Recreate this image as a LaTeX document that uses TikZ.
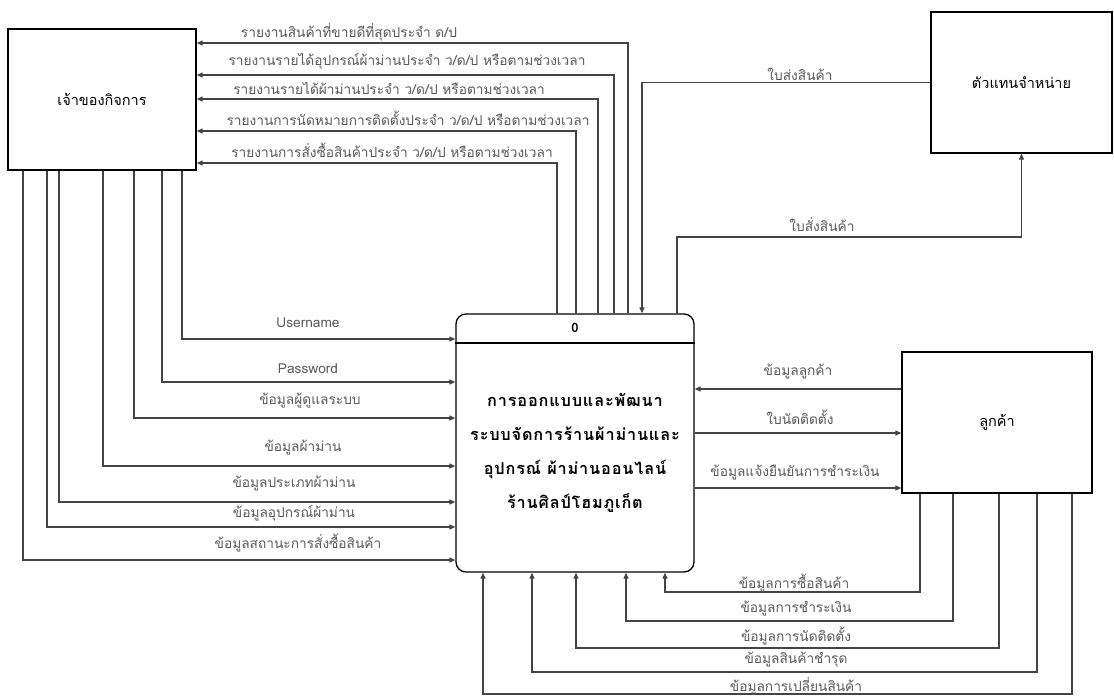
\documentclass[tikz,border=0pt]{standalone}
\usepackage{fontspec}
\setmainfont[Script=Thai]{Loma}
\usepackage{tikz}
\usetikzlibrary{arrows.meta,positioning,calc}

\definecolor{linegray}{HTML}{444444}
\definecolor{textgray}{HTML}{595959}

\tikzset{
  entity/.style={draw=black,line width=1.3pt,minimum width=#1,minimum height=141pt,inner sep=0pt,font=\fontsize{14.5}{16}\selectfont},
  flow/.style={draw=linegray,line width=1.1pt,-{Triangle[length=6pt,width=5pt]}},
  lbl/.style={text=textgray,inner sep=0pt,font=\fontsize{13.7}{15}\selectfont}
}

\begin{document}
\begin{tikzpicture}[x=1pt,y=-1pt]
  \useasboundingbox (0,0) rectangle (1114,696); % page frame
  \node[entity=188pt] (owner) at (102,99.5) {เจ้าของกิจการ}; % external entity: owner
  \node[entity=181pt] (dealer) at (1021.5,82.5) {ตัวแทนจำหน่าย}; % external entity: dealer
  \node[entity=190pt] (cust) at (997,422.5) {ลูกค้า}; % external entity: customer
  \node[draw=black,line width=1.3pt,rounded corners=10pt,minimum width=238pt,minimum height=258pt,inner sep=0pt] (proc) at (575,443) {}; % process 0
  \draw[black,line width=1.3pt] (proc.west |- 0,343) -- (proc.east |- 0,343); % divider under the number
  \node[font=\bfseries\fontsize{13}{15}\selectfont] (pnum) at (575,328) {0}; % process number
  \node[align=center,font=\bfseries\fontsize{16.3}{34}\selectfont\addfontfeature{LetterSpace=5}] (pname) at (575,453)
    {การออกแบบและพัฒนา\\ระบบจัดการร้านผ้าม่านและ\\อุปกรณ์ ผ้าม่านออนไลน์\\ร้านศิลป์โฮมภูเก็ต}; % process name

  % process -> owner (reports)
  \draw[flow] (proc.north -| 628,0) |- (owner.east |- 0,43);
  \draw[flow] (proc.north -| 614,0) |- (owner.east |- 0,75);
  \draw[flow] (proc.north -| 598,0) |- (owner.east |- 0,99);
  \draw[flow] (proc.north -| 576,0) |- (owner.east |- 0,131);
  \draw[flow] (proc.north -| 557,0) |- (owner.east |- 0,163);
  \node[lbl] (r1) at (349,32) {รายงานสินค้าที่ขายดีที่สุดประจำ ด/ป};
  \node[lbl] (r2) at (407,61) {รายงานรายได้อุปกรณ์ผ้าม่านประจำ ว/ด/ป หรือตามช่วงเวลา};
  \node[lbl] (r3) at (389,88) {รายงานรายได้ผ้าม่านประจำ ว/ด/ป หรือตามช่วงเวลา};
  \node[lbl] (r4) at (408,118) {รายงานการนัดหมายการติดตั้งประจำ ว/ด/ป หรือตามช่วงเวลา};
  \node[lbl] (r5) at (392,150) {รายงานการสั่งซื้อสินค้าประจำ ว/ด/ป หรือตามช่วงเวลา};

  % owner -> process (inputs)
  \draw[flow] (owner.south -| 182,0) |- (proc.west |- 0,339);
  \draw[flow] (owner.south -| 162,0) |- (proc.west |- 0,382);
  \draw[flow] (owner.south -| 134,0) |- (proc.west |- 0,418);
  \draw[flow] (owner.south -| 103,0) |- (proc.west |- 0,466);
  \draw[flow] (owner.south -| 59,0) |- (proc.west |- 0,502);
  \draw[flow] (owner.south -| 47,0) |- (proc.west |- 0,527);
  \draw[flow] (owner.south -| 23,0) |- (proc.west |- 0,560);
  \node[lbl] (i1) at (308,323) {Username};
  \node[lbl] (i2) at (308,369) {Password};
  \node[lbl] (i3) at (310,401) {ข้อมูลผู้ดูแลระบบ};
  \node[lbl] (i4) at (303,448) {ข้อมูลผ้าม่าน};
  \node[lbl] (i5) at (294,484) {ข้อมูลประเภทผ้าม่าน};
  \node[lbl] (i6) at (294,513) {ข้อมูลอุปกรณ์ผ้าม่าน};
  \node[lbl] (i7) at (298,543) {ข้อมูลสถานะการสั่งซื้อสินค้า};

  % dealer
  \draw[flow] (dealer.west) -| (proc.north -| 642,0);
  \draw[flow] (proc.north -| 677,0) -- (677,237) -| (dealer.south);
  \node[lbl] (d1) at (800,74) {ใบส่งสินค้า};
  \node[lbl] (d2) at (822,224) {ใบสั่งสินค้า};

  % customer (side)
  \draw[flow] (cust.west |- 0,389) -- (proc.east |- 0,389);
  \draw[flow] (proc.east |- 0,433) -- (cust.west |- 0,433);
  \draw[flow] (proc.east |- 0,488) -- (cust.west |- 0,488);
  \node[lbl] (c1) at (798,372) {ข้อมูลลูกค้า};
  \node[lbl] (c2) at (800,417) {ใบนัดติดตั้ง};
  \node[lbl] (c3) at (795,473) {ข้อมูลแจ้งยืนยันการชำระเงิน};

  % customer -> process (bottom)
  \draw[flow] (cust.south -| 920,0) -- (920,592) -| (proc.south -| 665,0);
  \draw[flow] (cust.south -| 953,0) -- (953,621) -| (proc.south -| 626,0);
  \draw[flow] (cust.south -| 999,0) -- (999,648) -| (proc.south -| 576,0);
  \draw[flow] (cust.south -| 1037,0) -- (1037,672) -| (proc.south -| 532,0);
  \draw[flow] (cust.south -| 1072,0) -- (1072,694) -| (proc.south -| 483,0);
  \node[lbl] (b1) at (794,583) {ข้อมูลการซื้อสินค้า};
  \node[lbl] (b2) at (796,609) {ข้อมูลการชำระเงิน};
  \node[lbl] (b3) at (796,636) {ข้อมูลการนัดติดตั้ง};
  \node[lbl] (b4) at (796,660) {ข้อมูลสินค้าชำรุด};
  \node[lbl] (b5) at (796,686) {ข้อมูลการเปลี่ยนสินค้า};
\end{tikzpicture}
\end{document}
